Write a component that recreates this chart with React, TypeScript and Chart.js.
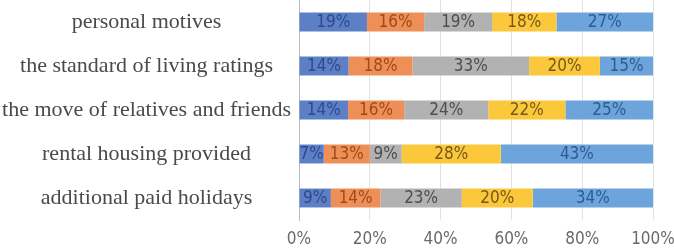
import React, { useEffect, useRef } from "react";
import { Chart, registerables } from "chart.js";

Chart.register(...registerables);

const categories = [
  "personal motives",
  "the standard of living ratings",
  "the move of relatives and friends",
  "rental housing provided",
  "additional paid holidays",
];
const series1 = [19, 14, 14, 7, 9];
const series2 = [16, 18, 16, 13, 14];
const series3 = [19, 33, 24, 9, 23];
const series4 = [18, 20, 22, 28, 20];
const series5 = [27, 15, 25, 43, 34];
const xTicks = [0, 20, 40, 60, 80, 100];

const allSeries = [series1, series2, series3, series4, series5];
const fills = ["#5C7FC6", "#EF8F58", "#B2B2B2", "#FBC83C", "#6CA4DB"];
const labelColors = ["#2C4B88", "#9E4A1C", "#4E4E4E", "#76591A", "#2F5C90"];

const totals = categories.map((_, i) => allSeries.reduce((s, a) => s + a[i], 0));

const labelPlugin = {
  id: "segLabels",
  afterDatasetsDraw(chart: any) {
    const ctx = chart.ctx;
    ctx.save();
    ctx.font = '17px "Liberation Sans Narrow", "DejaVu Sans Condensed", sans-serif';
    ctx.textAlign = "center";
    ctx.textBaseline = "middle";
    chart.data.datasets.forEach((ds: any, di: number) => {
      const meta = chart.getDatasetMeta(di);
      meta.data.forEach((el: any, i: number) => {
        const p = el.getCenterPoint();
        ctx.fillStyle = labelColors[di];
        ctx.fillText(ds.raw[i] + "%", p.x, p.y + 1);
      });
    });
    ctx.restore();
  },
};

export default function App() {
  const ref = useRef<HTMLCanvasElement>(null);
  useEffect(() => {
    document.body.style.margin = "0";
    const chart = new Chart(ref.current!, {
      type: "bar",
      data: {
        labels: categories,
        datasets: allSeries.map((s, di) => ({
          label: "s" + (di + 1),
          data: s.map((v, i) => (v / totals[i]) * 100),
          raw: s,
          backgroundColor: fills[di],
          borderWidth: 0,
          barPercentage: 1,
          categoryPercentage: 0.43,
        })) as any,
      },
      options: {
        indexAxis: "y",
        animation: false,
        responsive: false,
        maintainAspectRatio: false,
        layout: { padding: { top: -2, right: 21, left: 0, bottom: 0 } },
        plugins: { legend: { display: false }, tooltip: { enabled: false } },
        scales: {
          x: {
            stacked: true,
            min: 0,
            max: 100,
            afterBuildTicks: (scale: any) => {
              scale.ticks = xTicks.map((v) => ({ value: v }));
            },
            afterFit: (scale: any) => {
              scale.height = 29;
              scale.paddingLeft = 0;
              scale.paddingRight = 0;
            },
            grid: { color: "#E2E2E2", drawTicks: false },
            border: { display: false },
            ticks: {
              padding: 9,
              color: "#6A6A6A",
              font: { family: '"Liberation Sans Narrow", "DejaVu Sans Condensed", sans-serif', size: 17 },
              callback: (v: any) => v + "%",
            },
          },
          y: {
            stacked: true,
            afterFit: (scale: any) => {
              scale.width = 299;
              scale.paddingTop = 0;
              scale.paddingBottom = 0;
            },
            grid: { display: false, drawTicks: false },
            border: { display: true, color: "#BDBDBD", width: 1 },
            ticks: {
              crossAlign: "center",
              padding: 8,
              color: "#4A4A4A",
              font: { family: '"Liberation Serif", "Times New Roman", serif', size: 22 },
            },
          },
        },
      },
      plugins: [labelPlugin],
    });
    return () => chart.destroy();
  }, []);
  return (
    <div style={{ width: 674, height: 249 }}>
      <canvas ref={ref} width={674} height={249} style={{ display: "block" }} />
    </div>
  );
}
